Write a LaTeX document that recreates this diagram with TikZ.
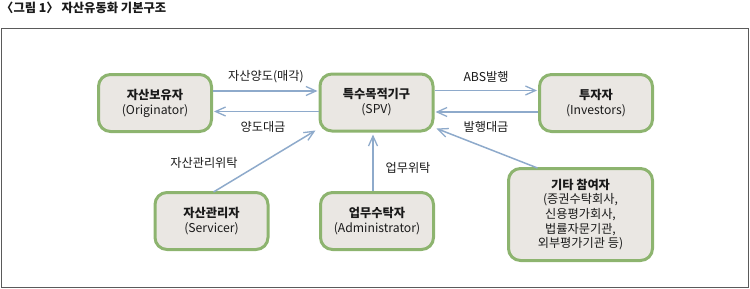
\documentclass[tikz,border=0pt]{standalone}
\usepackage{fontspec}
\setmainfont{Noto Sans CJK KR}
\usetikzlibrary{arrows.meta,calc}
\definecolor{boxgreen}{HTML}{8DB46F}
\definecolor{boxfill}{HTML}{EAE7E3}
\definecolor{arrowblue}{HTML}{8EAACB}
\definecolor{framegray}{HTML}{5A5A5A}
\definecolor{txt}{HTML}{1A1A1A}
\tikzset{
  entity/.style={draw=boxgreen, fill=boxfill, line width=3pt, rounded corners=12pt,
    minimum width=113pt, minimum height=57pt, align=center, inner sep=2pt,
    text=txt, font=\fontsize{12.2}{15}\selectfont},
  flow/.style={draw=arrowblue, line width=1.5pt, -{Straight Barb[length=10pt,width=9pt,line width=1.3pt]}},
  lbl/.style={text=txt, font=\fontsize{12.2}{14}\selectfont, inner sep=0pt},
}
\begin{document}
\begin{tikzpicture}[x=1pt,y=-1pt]
\useasboundingbox (0,0) rectangle (750,289);
% title
\node[anchor=west, inner sep=0pt, text=txt, font=\fontsize{12.3}{14}\selectfont\bfseries] (title) at (1,8) {〈그림 1〉 자산유동화 기본구조};
% frame
\draw[framegray, line width=1pt] (1.5,28) rectangle (748,287);
% boxes
\node[entity] (orig) at (155,103) {\textbf{자산보유자}\\(Originator)};
\node[entity] (spv) at (376.5,102.5) {\textbf{특수목적기구}\\(SPV)};
\node[entity] (inv) at (596,103) {\textbf{투자자}\\(Investors)};
\node[entity] (serv) at (211.5,221) {\textbf{자산관리자}\\(Servicer)};
\node[entity] (adm) at (377,221) {\textbf{업무수탁자}\\(Administrator)};
\node[entity, minimum width=144pt, minimum height=92pt, font=\fontsize{12.2}{14.6}\selectfont] (etc) at (580.5,214.5)
  {\textbf{기타 참여자}\\(증권수탁회사,\\신용평가회사,\\법률자문기관,\\외부평가기관 등)};
% arrows
\draw[flow, shorten >=1pt] ([yshift=12pt]orig.east) -- ([yshift=12pt]orig.east -| spv.west);
\draw[flow, shorten >=1pt] ([yshift=-9pt]spv.west) -- ([yshift=-9pt]spv.west -| orig.east);
\draw[flow, shorten >=1pt] ([yshift=12pt]spv.east) -- ([yshift=12pt]spv.east -| inv.west);
\draw[flow, shorten >=1pt] ([yshift=-9pt]inv.west) -- ([yshift=-9pt]inv.west -| spv.east);
\draw[flow] ([xshift=2pt,yshift=-1pt]serv.north) -- ([xshift=-3pt,yshift=2pt]spv.south west);
\draw[flow, shorten >=2pt] ([xshift=-4pt]adm.north) -- ([xshift=-3.5pt]spv.south);
\draw[flow] ([xshift=-43pt,yshift=-1pt]etc.north) -- ([xshift=2pt,yshift=4pt]spv.south east);
% labels
\node[lbl] (l1) at (266,77) {자산양도(매각)};
\node[lbl] (l2) at (263,127) {양도대금};
\node[lbl] (l3) at (486,77) {ABS발행};
\node[lbl] (l4) at (486,127) {발행대금};
\node[lbl] (l5) at (204,163) {자산관리위탁};
\node[lbl] (l6) at (408,168) {업무위탁};
\end{tikzpicture}
\end{document}
